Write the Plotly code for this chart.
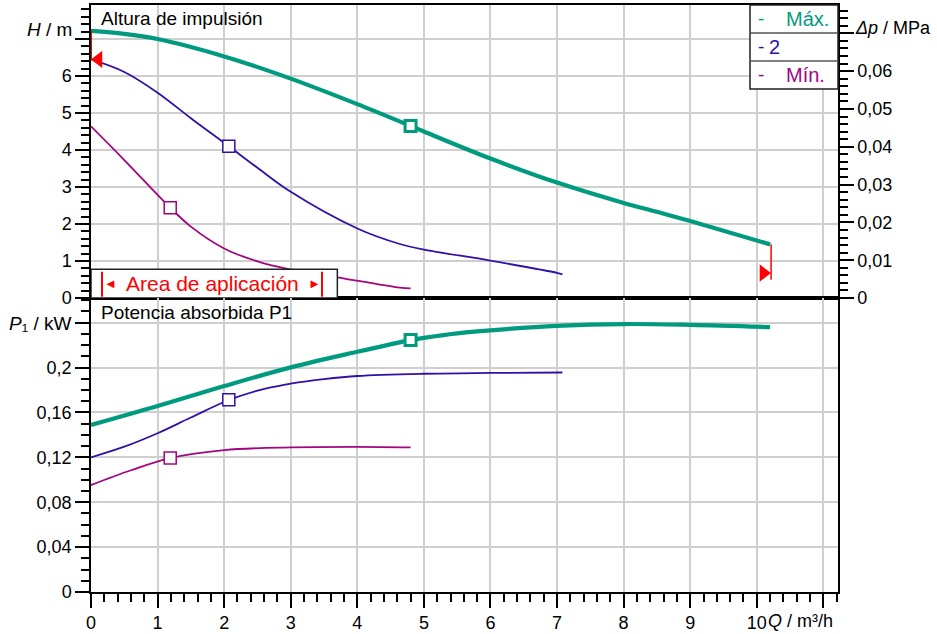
import plotly.graph_objects as go

# ---------------- data ----------------
# Altura de impulsión H [m] vs Q [m3/h]
q_max_h = [0, 0.5, 1, 2, 3, 4, 4.8, 5, 6, 7, 8, 8.5, 9, 10.2]
h_max = [7.22, 7.14, 7.0, 6.53, 5.93, 5.24, 4.65, 4.50, 3.77, 3.12, 2.57, 2.33, 2.08, 1.45]

q_2_h = [0, 0.5, 1, 1.5, 2.07, 2.5, 3, 4, 4.64, 5, 6, 7, 7.08]
h_2 = [6.45, 6.11, 5.55, 4.86, 4.10, 3.52, 2.87, 1.88, 1.46, 1.31, 1.01, 0.68, 0.64]

q_min_h = [0, 0.5, 1.19, 1.5, 2, 2.5, 3, 3.7, 4.64, 4.8]
h_min = [4.64, 3.73, 2.44, 1.93, 1.34, 0.99, 0.77, 0.56, 0.28, 0.26]

# Potencia absorbida P1 [kW] vs Q
q_max_p = [0, 1, 2, 3, 4, 4.8, 5, 5.5, 6, 7, 8, 9, 10.2]
p_max = [0.1488, 0.1657, 0.1835, 0.2002, 0.2141, 0.2245, 0.2265, 0.2305, 0.2332, 0.2372, 0.2388, 0.2381, 0.2361]

q_2_p = [0, 0.5, 1, 1.5, 2.08, 2.5, 2.75, 3, 3.5, 4, 5, 6, 7.08]
p_2 = [0.120, 0.1295, 0.1415, 0.1555, 0.1713, 0.1794, 0.1829, 0.1857, 0.1897, 0.1925, 0.1945, 0.1952, 0.1956]

q_min_p = [0, 0.6, 1.19, 2, 3, 4, 4.8]
p_min = [0.0953, 0.1085, 0.1194, 0.1265, 0.1289, 0.1294, 0.1289]

# marked operating points (Máx., 2, Mín.)
q_mark = [4.8, 2.07, 1.19]
h_mark = [4.65, 4.10, 2.44]
p_mark = [0.2245, 0.1713, 0.1194]

# limit indicators (red)
q_lim_left = [0.113]
h_lim_left = [6.45]
q_lim_right = [10.1]
h_lim_right = [0.675]
q_lim_line_l = [0, 0]
h_lim_line_l = [7.22, 6.45]
q_lim_line_r = [10.215, 10.215]
h_lim_line_r = [1.45, 0.49]

series_names = ["Máx.", "2", "Mín."]
colors = ["#009A7E", "#3210A6", "#A2067F"]

# ticks
q_ticks = list(range(0, 12))
q_ticktext = [str(v) for v in range(0, 11)] + [""]
h_ticks = list(range(0, 8))
h_ticktext = [str(v) for v in range(0, 7)] + [""]
dp_ticks = [0, 0.01, 0.02, 0.03, 0.04, 0.05, 0.06, 0.07]
dp_ticktext = ["0", "0,01", "0,02", "0,03", "0,04", "0,05", "0,06", ""]
p_ticks = [0, 0.04, 0.08, 0.12, 0.16, 0.20, 0.24]
p_ticktext = ["0", "0,04", "0,08", "0,12", "0,16", "0,2", ""]

# ---------------- geometry ----------------
W, H = 937, 634
ML, MR, MT, MB = 91, 99, 5, 42
PW = W - ML - MR
PH = H - MT - MB


def pxx(x):
    return (x - ML) / PW


def pyy(y):
    return (H - MB - y) / PH


split = pyy(298)
FONT = "Liberation Sans, Arial, sans-serif"
GRID = "#cfcfcf"
SMOOTH = 1.0

fig = go.Figure()

# H curves
for qs, hs, name, col, w in [
    (q_min_h, h_min, series_names[2], colors[2], 1.8),
    (q_2_h, h_2, series_names[1], colors[1], 1.8),
    (q_max_h, h_max, series_names[0], colors[0], 4.2),
]:
    fig.add_trace(go.Scatter(x=qs, y=hs, mode="lines", name=name, showlegend=False,
                             line=dict(color=col, width=w, shape="spline", smoothing=SMOOTH),
                             xaxis="x", yaxis="y", hoverinfo="skip"))

# P curves
for qs, ps, name, col, w in [
    (q_min_p, p_min, series_names[2], colors[2], 1.8),
    (q_2_p, p_2, series_names[1], colors[1], 1.8),
    (q_max_p, p_max, series_names[0], colors[0], 4.2),
]:
    fig.add_trace(go.Scatter(x=qs, y=ps, mode="lines", name=name, showlegend=False,
                             line=dict(color=col, width=w, shape="spline", smoothing=SMOOTH),
                             xaxis="x2", yaxis="y2", hoverinfo="skip"))

# markers
msize = [11, 12, 12]
mline = [3, 1.5, 1.5]
for i in range(3):
    fig.add_trace(go.Scatter(x=[q_mark[i]], y=[h_mark[i]], mode="markers", showlegend=False,
                             marker=dict(symbol="square", size=msize[i], color="white",
                                         line=dict(color=colors[i], width=mline[i])),
                             xaxis="x", yaxis="y", hoverinfo="skip"))
    fig.add_trace(go.Scatter(x=[q_mark[i]], y=[p_mark[i]], mode="markers", showlegend=False,
                             marker=dict(symbol="square", size=msize[i], color="white",
                                         line=dict(color=colors[i], width=mline[i])),
                             xaxis="x2", yaxis="y2", hoverinfo="skip"))

# red limit indicators
fig.add_trace(go.Scatter(x=q_lim_line_l, y=h_lim_line_l, mode="lines", showlegend=False,
                         line=dict(color="red", width=2), xaxis="x", yaxis="y", hoverinfo="skip"))
fig.add_trace(go.Scatter(x=q_lim_line_r, y=h_lim_line_r, mode="lines", showlegend=False,
                         line=dict(color="red", width=1.5), xaxis="x", yaxis="y", hoverinfo="skip"))
fig.add_trace(go.Scatter(x=q_lim_left, y=h_lim_left, mode="markers", showlegend=False,
                         marker=dict(symbol="triangle-left", size=15, color="red"),
                         xaxis="x", yaxis="y", hoverinfo="skip", cliponaxis=False))
fig.add_trace(go.Scatter(x=q_lim_right, y=h_lim_right, mode="markers", showlegend=False,
                         marker=dict(symbol="triangle-right", size=15, color="red"),
                         xaxis="x", yaxis="y", hoverinfo="skip", cliponaxis=False))

# Δp axis (same head curve expressed in MPa, invisible) so that the right axis is drawn
dp_max = [h * 0.00981 for h in h_max]
fig.add_trace(go.Scatter(x=q_max_h, y=dp_max, mode="lines", showlegend=False,
                         line=dict(width=0, color="rgba(0,0,0,0)"), opacity=0,
                         xaxis="x", yaxis="y3", hoverinfo="skip"))

axis_common = dict(showline=True, linecolor="black", linewidth=1.5, zeroline=False,
                   tickcolor="black", tickwidth=1.5, automargin=False)

fig.update_layout(
    width=W, height=H,
    margin=dict(l=ML, r=MR, t=MT, b=MB, autoexpand=False),
    template="none",
    paper_bgcolor="white", plot_bgcolor="white",
    font=dict(family=FONT, size=18, color="black"),
    showlegend=False,
    xaxis=dict(domain=[0, 1], anchor="y", range=[0, 11.22], tickmode="array", tickvals=q_ticks,
               showticklabels=False, ticks="", showgrid=True, gridcolor=GRID, gridwidth=1.5,
               mirror=True, **axis_common),
    yaxis=dict(domain=[split, 1], anchor="x", range=[0, 7.92], tickmode="array", tickvals=h_ticks,
               ticktext=h_ticktext, ticks="outside", ticklen=14, showgrid=True, gridcolor=GRID,
               gridwidth=1.5,
               minor=dict(tick0=0, dtick=0.2, ticks="outside", ticklen=8, tickcolor="black",
                          tickwidth=1.5, showgrid=False),
               **axis_common),
    yaxis3=dict(overlaying="y", side="right", anchor="x", range=[0, 0.0775], tickmode="array",
                tickvals=dp_ticks, ticktext=dp_ticktext, ticks="outside", ticklen=14,
                showgrid=False,
                minor=dict(tick0=0, dtick=0.002, ticks="outside", ticklen=8, tickcolor="black",
                           tickwidth=1.5, showgrid=False),
                **axis_common),
    xaxis2=dict(domain=[0, 1], anchor="y2", range=[0, 11.22], tickmode="array", tickvals=q_ticks,
                ticktext=q_ticktext, ticks="outside", ticklen=14, showgrid=True, gridcolor=GRID,
                gridwidth=1.5, mirror=True,
                minor=dict(tick0=0, dtick=0.2, ticks="outside", ticklen=8, tickcolor="black",
                           tickwidth=1.5, showgrid=False),
                **axis_common),
    yaxis2=dict(domain=[0, split], anchor="x2", range=[0, 0.262], tickmode="array",
                tickvals=p_ticks, ticktext=p_ticktext, ticks="outside", ticklen=14,
                showgrid=True, gridcolor=GRID, gridwidth=1.5, mirror=True,
                minor=dict(tick0=0, dtick=0.01, ticks="outside", ticklen=8, tickcolor="black",
                           tickwidth=1.5, showgrid=False),
                **axis_common),
)

shapes = []
# Area de aplicación box (top panel data coords)
shapes.append(dict(type="rect", xref="x", yref="y", x0=0, x1=3.70, y0=0, y1=0.78,
                   fillcolor="white", line=dict(color="#222222", width=1.5), layer="above"))
for xb in [0.165, 3.47]:
    shapes.append(dict(type="line", xref="x", yref="y", x0=xb, x1=xb, y0=0.035, y1=0.71,
                       line=dict(color="red", width=2), layer="above"))
# legend box (paper)
shapes.append(dict(type="rect", xref="paper", yref="paper", x0=pxx(750), x1=pxx(838),
                   y0=pyy(89), y1=pyy(5), fillcolor="white",
                   line=dict(color="#222222", width=1.5), layer="above"))
for yl in [33, 61]:
    shapes.append(dict(type="line", xref="paper", yref="paper", x0=pxx(750), x1=pxx(838),
                       y0=pyy(yl), y1=pyy(yl), line=dict(color="#555555", width=1.5),
                       layer="above"))
fig.update_layout(shapes=shapes)

ann = []


def A(text, x, y, xanchor="left", size=18, color="black", xref="paper", yref="paper"):
    ann.append(dict(text=text, x=x, y=y, xref=xref, yref=yref, xanchor=xanchor,
                    yanchor="middle", showarrow=False, font=dict(size=size, color=color,
                                                                 family=FONT)))


A("Altura de impulsión", pxx(99), pyy(18), size=19)
A("Potencia absorbida P1", pxx(99), pyy(312), size=19)
A("<i>H</i> / m", pxx(74), pyy(29), xanchor="right", size=19)
A("<i>Δp</i> / MPa", pxx(853), pyy(28), xanchor="left", size=18)
A("<i>P</i>₁ / kW", pxx(73), pyy(323), xanchor="right", size=19)
A("<i>Q</i> / m³/h", pxx(766), pyy(621), xanchor="left", size=18)

# legend texts
rows = [18.7, 47, 75]
A("-", pxx(756), pyy(rows[0]), size=19, color=colors[0])
A("Máx.", pxx(784), pyy(rows[0]), size=20, color=colors[0])
A("-", pxx(756), pyy(rows[1]), size=19, color=colors[1])
A("2", pxx(767), pyy(rows[1]), size=20, color=colors[1])
A("-", pxx(756), pyy(rows[2]), size=19, color=colors[2])
A("Mín.", pxx(784), pyy(rows[2]), size=20, color=colors[2])

# Area de aplicación label
A("Area de aplicación", 1.83, 0.38, xanchor="center", size=21, color="red", xref="x", yref="y")
A("◄", 0.29, 0.38, xanchor="center", size=13, color="red", xref="x", yref="y")
A("►", 3.36, 0.38, xanchor="center", size=13, color="red", xref="x", yref="y")

fig.update_layout(annotations=ann)

fig.write_html("out.html", config={"displayModeBar": False},
               post_script="document.body.style.margin='0';document.body.style.overflow='hidden';")
